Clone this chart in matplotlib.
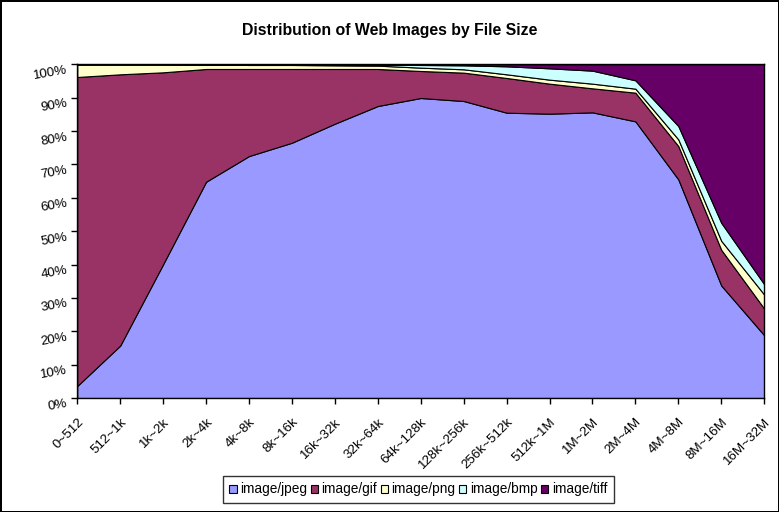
import numpy as np
import matplotlib
matplotlib.use("Agg")
import matplotlib.pyplot as plt
from matplotlib.ticker import PercentFormatter
from matplotlib.patches import Patch

plt.rcParams['font.family'] = ['Liberation Sans', 'DejaVu Sans']

# categorias de tamano de archivo
categorias = ["0~512", "512~1k", "1k~2k", "2k~4k", "4k~8k", "8k~16k", "16k~32k",
              "32k~64k", "64k~128k", "128k~256k", "256k~512k", "512k~1M",
              "1M~2M", "2M~4M", "4M~8M", "8M~16M", "16M~32M"]

# porcentaje de cada tipo en cada categoria
jpeg = [3.6, 15.7, 40.1, 64.8, 72.5, 76.5, 82.2, 87.5, 89.9, 89.0, 85.5, 85.2, 85.6, 82.9, 65.5, 33.7, 18.8]
gif = [92.6, 81.3, 57.5, 33.8, 26.1, 22.1, 16.4, 11.1, 8.1, 8.5, 10.4, 9.0, 7.2, 8.6, 10.0, 10.7, 8.0]
png = [3.8, 3.0, 2.4, 1.3, 1.2, 1.2, 1.1, 1.0, 1.0, 1.0, 1.1, 1.2, 1.4, 1.2, 2.0, 2.7, 4.2]
bmp = [0.0, 0.0, 0.0, 0.1, 0.2, 0.2, 0.3, 0.3, 0.8, 1.2, 2.4, 3.4, 3.9, 2.5, 4.0, 5.4, 3.1]
tiff = [0.0, 0.0, 0.0, 0.0, 0.0, 0.0, 0.0, 0.1, 0.2, 0.3, 0.6, 1.2, 1.9, 4.8, 18.5, 47.5, 65.9]

series = ["image/jpeg", "image/gif", "image/png", "image/bmp", "image/tiff"]
colores = ["#9999FF", "#993366", "#FFFFCC", "#CCFFFF", "#660066"]

fig = plt.figure(figsize=(7.79, 5.12), dpi=100)
fig.patch.set_edgecolor("black")
fig.patch.set_linewidth(2)
ax = fig.add_axes([0.0992, 0.2227, 0.8818, 0.6517])

x = np.arange(len(categorias))
datos = np.array([jpeg, gif, png, bmp, tiff]) / 100.0
ax.stackplot(x, datos, colors=colores, edgecolor="black", linewidth=0.8)

ax.set_xlim(0, len(categorias) - 1)
ax.set_ylim(0, 1)
ax.set_yticks(np.linspace(0, 1, 11))
ax.yaxis.set_major_formatter(PercentFormatter(1.0, decimals=0))
ax.set_xticks(x)
ax.set_xticklabels(categorias)

for s in ax.spines.values():
    s.set_color("black")
    s.set_linewidth(1)

ax.tick_params(axis="both", direction="out", length=4, width=1, colors="black", labelsize=9.6)
ax.tick_params(axis="y", pad=4)
ax.tick_params(axis="x", pad=9)
for lbl in ax.get_xticklabels():
    lbl.set_rotation(45)
    lbl.set_ha("right")
    lbl.set_va("top")
    lbl.set_rotation_mode("anchor")
for lbl in ax.get_yticklabels():
    lbl.set_rotation(10)
    lbl.set_ha("right")
    lbl.set_va("top")
    lbl.set_rotation_mode("anchor")

fig.text(0.5, 0.941, "Distribution of Web Images by File Size", ha="center", va="center",
         fontsize=11.4, fontweight="bold")

handles = [Patch(facecolor=c, edgecolor="black", linewidth=0.8) for c in colores]
leg = fig.legend(handles, series, loc="center", bbox_to_anchor=(0.537, 0.044), ncol=5,
                 fontsize=9.8, frameon=True, fancybox=False, shadow=False,
                 handlelength=0.55, handleheight=0.55, handletextpad=0.25, columnspacing=0.25,
                 borderpad=0.5, borderaxespad=0)
leg.get_frame().set_edgecolor("black")
leg.get_frame().set_linewidth(1)

fig.savefig("out.png", dpi=100, edgecolor=fig.get_edgecolor())
